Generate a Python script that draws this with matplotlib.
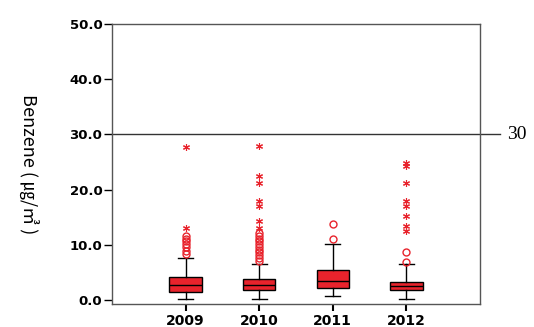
import matplotlib
matplotlib.use("Agg")
import matplotlib.pyplot as plt

# yearly benzene concentration summaries (ug/m3)
years = ["2009", "2010", "2011", "2012"]
whis_lo = [0.1, 0.1, 0.7, 0.1]
q1 = [1.5, 1.8, 2.2, 1.8]
medians = [2.7, 2.7, 3.5, 2.6]
q3 = [4.2, 3.7, 5.4, 3.3]
whis_hi = [7.5, 6.5, 10.2, 6.5]
# mild outliers (circles) and extreme values (stars)
outliers = [
    [8.3, 8.9, 9.5, 10.1, 10.6, 11.1, 11.6],
    [7.1, 7.6, 8.1, 8.6, 9.1, 9.6, 10.1, 10.6, 11.1, 11.6, 12.2],
    [11.1, 13.8],
    [6.8, 8.6],
]
extremes = [
    [13.1, 27.7],
    [13.1, 14.3, 17.0, 17.9, 21.2, 22.4, 27.8],
    [],
    [12.5, 13.4, 15.2, 17.0, 17.9, 21.2, 24.2, 24.8],
]
limit = 30

RED = "#e8232c"

fig = plt.figure(figsize=(5.34, 3.27), dpi=100)
ax = fig.add_axes([0.2097, 0.0703, 0.6892, 0.8563])

stats = []
for i, yr in enumerate(years):
    stats.append(dict(label=yr, whislo=whis_lo[i], q1=q1[i], med=medians[i],
                      q3=q3[i], whishi=whis_hi[i], fliers=outliers[i]))

pos = range(1, len(years) + 1)
ax.bxp(stats, positions=pos, widths=0.44, patch_artist=True, capwidths=0.2,
       boxprops=dict(facecolor=RED, edgecolor="black", linewidth=1),
       medianprops=dict(color="black", linewidth=1),
       whiskerprops=dict(color="black", linewidth=1),
       capprops=dict(color="black", linewidth=1),
       flierprops=dict(marker="o", markersize=5, markerfacecolor="none",
                       markeredgecolor=RED, markeredgewidth=1))

for p, ext in zip(pos, extremes):
    if ext:
        ax.plot([p] * len(ext), ext, linestyle="none", marker=(6, 2, 0),
                markersize=5, color=RED, markeredgewidth=0.8)

# reference level line running past the frame
ax.axhline(limit, xmax=1.055, color="#333333", linewidth=1, clip_on=False)
ax.text(1.073, limit, str(limit), transform=ax.get_yaxis_transform(),
        va="center", ha="left", fontsize=14, family="Liberation Serif")

ax.set_xlim(0, 5)
ax.set_ylim(-0.75, 50)
ax.set_yticks([0, 10, 20, 30, 40, 50])
ax.set_yticklabels(["%.1f" % v for v in [0, 10, 20, 30, 40, 50]],
                   fontsize=9.5, fontweight="bold")
ax.set_xticks(list(pos))
ax.set_xticklabels(years, fontsize=10, fontweight="bold")
ax.tick_params(axis="y", length=6, width=1, pad=1)
ax.tick_params(axis="x", length=5, width=1.5, pad=2)

for s in ax.spines.values():
    s.set_color("#555555")
    s.set_linewidth(1)

ax.set_ylabel("Benzene ( ㎍/㎥ )", rotation=-90, fontsize=13,
              family=["Noto Sans CJK KR", "DejaVu Sans"])
ax.yaxis.set_label_coords(-0.255, 0.5)

fig.savefig("out.png", dpi=100)
